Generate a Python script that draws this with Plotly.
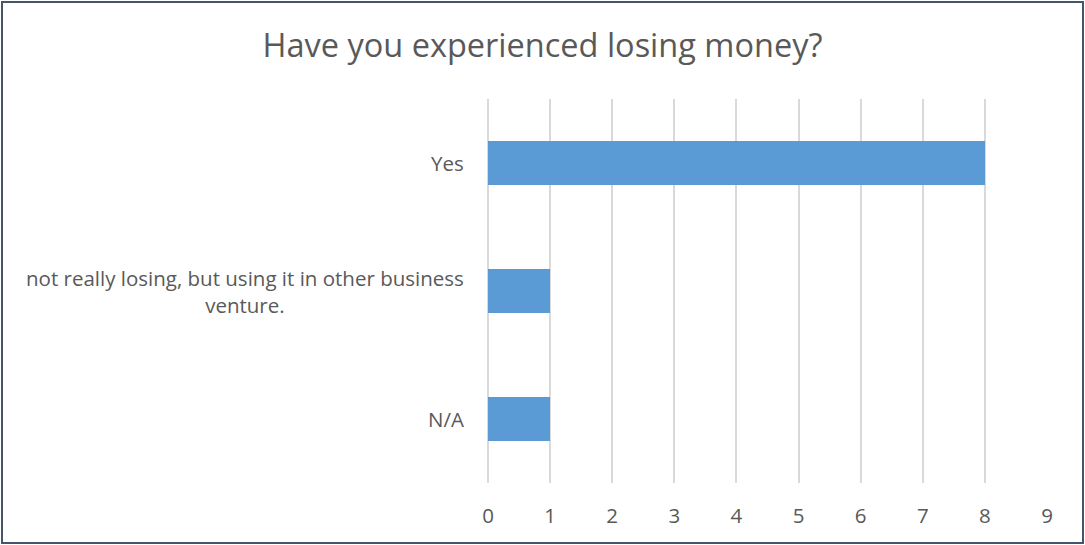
import plotly.graph_objects as go

# Survey responses (top to bottom as listed on the chart)
categories = [
    "Yes",
    "not really losing, but using it in other business<br>venture.",
    "N/A",
]
counts = [8, 1, 1]
x_ticks = [0, 1, 2, 3, 4, 5, 6, 7, 8, 9]

FONT = "Open Sans, Calibri, Arial, sans-serif"
TEXT_COLOR = "#595959"
BAR_COLOR = "#5B9BD5"
GRID_COLOR = "#D9D9D9"

W, H = 1085, 545
L, R, T, B = 488, 38, 99, 62
plot_w = W - L - R
plot_h = H - T - B

fig = go.Figure(
    go.Bar(
        x=counts,
        y=list(range(len(categories))),
        orientation="h",
        marker=dict(color=BAR_COLOR, line=dict(width=0)),
        width=0.35,
        hoverinfo="x",
    )
)

# Category labels as centred multi-line annotations to the left of the axis
for i, label in enumerate(categories):
    fig.add_annotation(
        x=-22 / plot_w,
        xref="paper",
        y=i,
        yref="y",
        text=label,
        showarrow=False,
        xanchor="right",
        yanchor="middle",
        align="center",
        font=dict(family=FONT, size=20.5, color=TEXT_COLOR),
    )

# Outer chart border
fig.add_shape(
    type="rect",
    xref="paper",
    yref="paper",
    x0=(2 - L) / plot_w,
    x1=(W - 2 - L) / plot_w,
    y0=-(B - 2) / plot_h,
    y1=(plot_h + T - 2) / plot_h,
    line=dict(color="#44546A", width=2),
    fillcolor="rgba(0,0,0,0)",
    layer="above",
)

fig.update_layout(
    width=W,
    height=H,
    margin=dict(l=L, r=R, t=T, b=B),
    paper_bgcolor="white",
    plot_bgcolor="white",
    showlegend=False,
    title=dict(
        text="Have you experienced losing money?",
        x=0.5,
        xref="container",
        xanchor="center",
        y=1 - 46 / H,
        yref="container",
        yanchor="middle",
        font=dict(family=FONT, size=32.5, color=TEXT_COLOR),
    ),
    xaxis=dict(
        range=[0, 9],
        tickvals=x_ticks,
        ticktext=[str(v) for v in x_ticks],
        showgrid=True,
        gridcolor=GRID_COLOR,
        gridwidth=1.5,
        zeroline=True,
        zerolinecolor=GRID_COLOR,
        zerolinewidth=1.5,
        showline=False,
        ticks="",
        ticklabelstandoff=18,
        tickfont=dict(family=FONT, size=20.5, color=TEXT_COLOR),
    ),
    yaxis=dict(
        range=[len(categories) - 0.5, -0.5],
        showticklabels=False,
        showgrid=False,
        zeroline=False,
        showline=False,
        ticks="",
    ),
    bargap=0,
)

fig.write_html("out.html")
